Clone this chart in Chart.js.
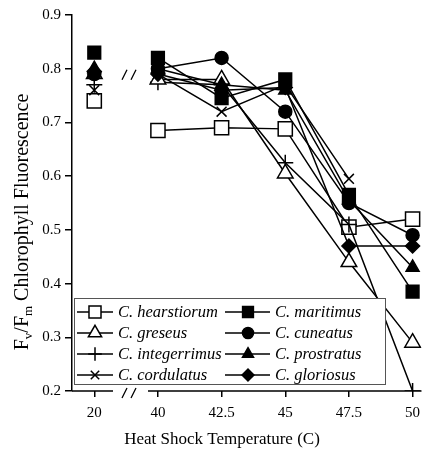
<!DOCTYPE html>
<html><head><meta charset="utf-8">
<script src="https://cdn.jsdelivr.net/npm/chart.js@4/dist/chart.umd.min.js"></script>
<style>html,body{margin:0;padding:0;background:#fff;}#wrap{width:433px;height:453px;position:relative;}</style>
</head><body><div id="wrap"><canvas id="c" width="433" height="453"></canvas></div>
<script>
const categories = ['20', '40', '42.5', '45', '47.5', '50'];
const yTicks = [0.2, 0.3, 0.4, 0.5, 0.6, 0.7, 0.8, 0.9];
const seriesNames = ['C. hearstiorum', 'C. greseus', 'C. integerrimus', 'C. cordulatus',
                     'C. maritimus', 'C. cuneatus', 'C. prostratus', 'C. gloriosus'];
const hearstiorum  = [0.74, 0.685, 0.69, 0.688, 0.505, 0.52];
const greseus      = [0.79, 0.78, 0.78, 0.605, 0.44, 0.29];
const integerrimus = [0.77, 0.775, 0.77, 0.625, 0.51, 0.20];
const cordulatus   = [0.76, 0.79, 0.72, 0.77, 0.595, null];
const maritimus    = [0.83, 0.82, 0.745, 0.78, 0.565, 0.385];
const cuneatus     = [0.79, 0.80, 0.82, 0.72, 0.55, 0.49];
const prostratus   = [0.80, 0.80, 0.77, 0.76, 0.555, 0.43];
const gloriosus    = [0.795, 0.79, 0.76, 0.765, 0.47, 0.47];

const seriesValues = [hearstiorum, greseus, integerrimus, cordulatus, maritimus, cuneatus, prostratus, gloriosus];
const styles = [
  {ps:'rect', r:10, fill:'#fff', order:3},
  {ps:'triangle', r:9, fill:'#fff', order:2},
  {ps:'cross', r:8, fill:'#000', order:2},
  {ps:'crossRot', r:7, fill:'#000', order:2},
  {ps:'rect', r:9, fill:'#000', order:0},
  {ps:'circle', r:6.5, fill:'#000', order:1},
  {ps:'triangle', r:7.5, fill:'#000', order:0},
  {ps:'rectRot', r:7, fill:'#000', order:1}
];

const datasets = seriesValues.map((vals, k) => ({
  label: seriesNames[k],
  order: styles[k].order,
  data: vals.map((v, i) => ({x: i, y: v})),
  borderColor: '#000',
  borderWidth: 1.5,
  pointStyle: styles[k].ps,
  pointRadius: styles[k].r,
  pointHoverRadius: styles[k].r,
  pointBackgroundColor: styles[k].fill,
  pointBorderColor: '#000',
  pointBorderWidth: 1.5,
  fill: false,
  tension: 0,
  spanGaps: false,
  segment: { borderColor: ctx => ctx.p0DataIndex === 0 ? 'rgba(0,0,0,0)' : '#000' }
}));

const decor = {
  id: 'decor',
  afterDatasetsDraw(chart) {
    const ctx = chart.ctx;
    const ys = chart.scales.y;
    const ca = chart.chartArea;
    ctx.save();
    ctx.strokeStyle = '#000';
    ctx.lineWidth = 1.5;
    const yb = ca.bottom;
    ctx.beginPath();
    ctx.moveTo(ca.left, yb); ctx.lineTo(113, yb);
    ctx.moveTo(148, yb); ctx.lineTo(ca.right, yb);
    ctx.stroke();
    ctx.lineWidth = 1.3;
    function slashes(cx, cy) {
      ctx.beginPath();
      ctx.moveTo(cx - 8, cy + 5); ctx.lineTo(cx - 3, cy - 5);
      ctx.moveTo(cx + 1, cy + 5); ctx.lineTo(cx + 6, cy - 5);
      ctx.stroke();
    }
    slashes(130, ys.getPixelForValue(0.8) + 6);
    slashes(130, yb + 2);

    // legend
    const bx = 74, by = 298, bw = 311, bh = 86;
    ctx.fillStyle = '#fff';
    ctx.fillRect(bx, by, bw, bh);
    ctx.lineWidth = 1;
    ctx.strokeStyle = '#555';
    ctx.strokeRect(bx + 0.5, by + 0.5, bw, bh);
    const rowsY = [312, 333, 354, 375];
    const cols = [{l0: 77, l1: 113, m: 95, t: 118}, {l0: 225, l1: 270, m: 248, t: 275}];
    ctx.textBaseline = 'middle';
    ctx.textAlign = 'left';
    chart.data.datasets.forEach((ds, k) => {
      const c = cols[Math.floor(k / 4)], y = rowsY[k % 4];
      ctx.strokeStyle = '#000';
      ctx.lineWidth = 1.5;
      ctx.beginPath(); ctx.moveTo(c.l0, y); ctx.lineTo(c.l1, y); ctx.stroke();
      ctx.fillStyle = styles[k].fill;
      Chart.helpers.drawPoint(ctx, {pointStyle: styles[k].ps, radius: styles[k].r * 0.85, rotation: 0, borderWidth: 1.5}, c.m, y);
      ctx.fillStyle = '#000';
      ctx.font = 'italic 16.5px "Liberation Serif"';
      ctx.fillText(ds.label, c.t, y + 1);
    });

    // axis titles
    ctx.fillStyle = '#000';
    ctx.textAlign = 'center';
    ctx.textBaseline = 'alphabetic';
    ctx.font = '17px "Liberation Serif"';
    ctx.fillText('Heat Shock Temperature (C)', 222, 444);

    ctx.translate(28, 222);
    ctx.rotate(-Math.PI / 2);
    const big = '20px "Liberation Serif"', small = '13px "Liberation Serif"';
    const runs = [['F', big, 0], ['v', small, 4], ['/F', big, 0], ['m', small, 4], [' Chlorophyll Fluorescence', big, 0]];
    let total = 0;
    runs.forEach(r => { ctx.font = r[1]; total += ctx.measureText(r[0]).width; });
    let x = -total / 2;
    ctx.textAlign = 'left';
    runs.forEach(r => { ctx.font = r[1]; ctx.fillText(r[0], x, r[2]); x += ctx.measureText(r[0]).width; });
    ctx.restore();
  }
};

new Chart(document.getElementById('c'), {
  type: 'line',
  data: { datasets },
  options: {
    responsive: false,
    animation: false,
    events: [],
    layout: { padding: { left: 0, top: 15, right: 3, bottom: 0 } },
    plugins: { legend: { display: false }, tooltip: { enabled: false } },
    scales: {
      x: {
        type: 'linear',
        min: -0.35, max: 5.14,
        afterBuildTicks: s => { s.ticks = categories.map((c, i) => ({value: i})); },
        afterFit: s => { s.height = 62; },
        grid: { drawOnChartArea: false, drawTicks: true, tickLength: 6, color: '#000', lineWidth: 1.5 },
        border: { display: false },
        ticks: { color: '#000', padding: 7, maxRotation: 0, autoSkip: false,
                 font: { family: 'Liberation Serif', size: 15 },
                 callback: (v) => categories[v] }
      },
      y: {
        min: 0.2, max: 0.9,
        afterBuildTicks: s => { s.ticks = yTicks.map(v => ({value: v})); },
        afterFit: s => { s.width = 72; },
        grid: { drawOnChartArea: false, drawTicks: true, tickLength: 7, color: '#000', lineWidth: 1.5 },
        border: { display: true, color: '#000', width: 1.5 },
        ticks: { color: '#000', padding: 4, font: { family: 'Liberation Serif', size: 15 },
                 callback: v => v.toFixed(1) }
      }
    }
  },
  plugins: [decor]
});
</script></body></html>
